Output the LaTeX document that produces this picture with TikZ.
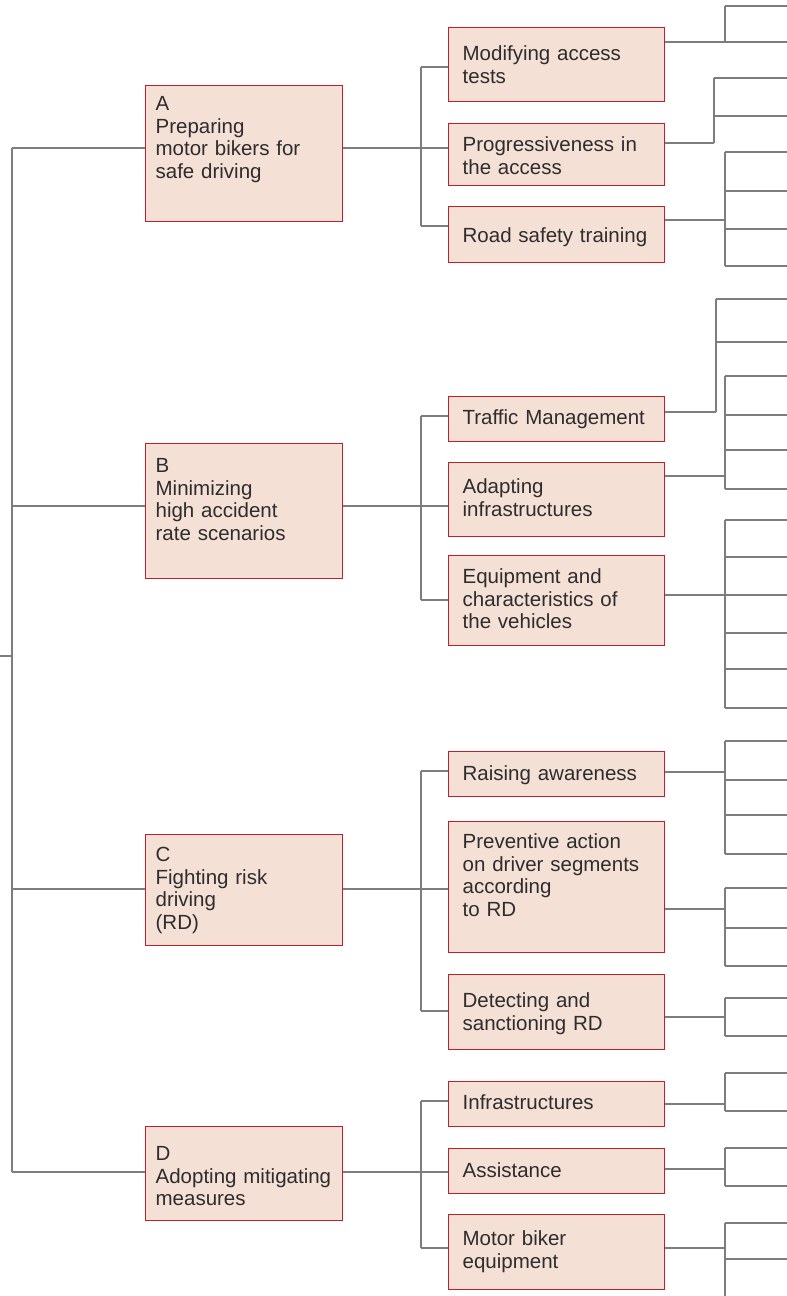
\documentclass[tikz,border=0pt]{standalone}
\usepackage{fontspec}
\setmainfont{Liberation Sans}
\definecolor{boxfill}{RGB}{245,224,214}
\definecolor{boxred}{RGB}{196,30,46}
\definecolor{linegray}{RGB}{125,125,125}
\definecolor{textgray}{RGB}{45,45,45}
\newcommand{\boxfont}{\fontsize{20.5}{22.6}\selectfont}

\begin{document}
\begin{tikzpicture}[
        x=1pt, y=-1pt,
        link/.style={draw=linegray, line width=1.2pt},
        spans/.style 2 args={text height=#1pt, text depth=#2pt},
        mainbox/.style={rectangle, draw=boxred, fill=boxfill, line width=1.3pt,
          anchor=north west, inner xsep=10pt, inner ysep=0pt, text width=177pt,
        align=left, font=\boxfont, text=textgray},
        subbox/.style={mainbox, inner xsep=14pt, text width=188pt},
      ]
      \useasboundingbox (0,0) rectangle (787,1296);

      \node[mainbox, spans={25}{111}] (A) at (145,85)
      {A\\Preparing\\motor bikers for\\safe driving};
      \node[mainbox, spans={29}{106}] (B) at (145,443)
      {B\\Minimizing\\high accident\\rate scenarios};
      \node[mainbox, spans={27}{84}] (C) at (145,834)
      {C\\Fighting risk\\driving\\(RD)};
      \node[mainbox, spans={34}{60}] (D) at (145,1126)
      {D\\Adopting mitigating\\measures};

      \node[subbox, spans={33}{41}] (A1) at (448,27) {Modifying access\\tests};
      \node[subbox, spans={28}{34}] (A2) at (448,123) {Progressiveness in\\the access};
      \node[subbox, spans={36}{20}] (A3) at (448,206) {Road safety training};

      \node[subbox, spans={28}{17}] (B1) at (448,396) {Traffic Management};
      \node[subbox, spans={31}{43}] (B2) at (448,462) {Adapting\\infrastructures};
      \node[subbox, spans={28}{62}] (B3) at (448,555)
      {Equipment and\\characteristics of\\the vehicles};

      \node[subbox, spans={29}{16}] (C1) at (448,751) {Raising awareness};
      \node[subbox, spans={27}{104}] (C2) at (448,821)
      {Preventive action\\on driver segments\\according\\to RD};
      \node[subbox, spans={33}{42}] (C3) at (448,974) {Detecting and\\sanctioning RD};

      \node[subbox, spans={28}{17}] (D1) at (448,1081) {Infrastructures};
      \node[subbox, spans={29}{16}] (D2) at (448,1148) {Assistance};
      \node[subbox, spans={31}{44}] (D3) at (448,1214) {Motor biker\\equipment};

      % trunk
      \coordinate (root) at (12,656);
      \draw[link] (0,656) -- (root);
      \draw[link] (12,148) -- (12,1172);
      \foreach \n/\y in {A/148, B/506, C/889, D/1172}
        \draw[link] (12,\y) -- (\n.west |- 0,\y);

      % main boxes to sub boxes
      \foreach \n/\y/\a/\b in {A/148/67/226, B/506/416/600, C/889/771/1011, D/1172/1101/1248} {
        \draw[link] (\n.east |- 0,\y) -- (421,\y);
        \draw[link] (421,\a) -- (421,\b);
      }
      \foreach \s/\y in {A1/67, A2/148, A3/226, B1/416, B2/506, B3/600,
        C1/771, C2/889, C3/1011, D1/1101, D2/1172, D3/1248}
        \draw[link] (421,\y) -- (\s.west |- 0,\y);

      % sub boxes to open leaves
      \foreach \s/\y/\x/\a/\b/\leaves in {
          A1/42/725/6/42/{6,42}, A2/143/714/78/143/{78,116},
          A3/220/725/152/266/{152,191,229,266},
          B1/412/716/299/412/{299,342}, B2/476/725/376/489/{376,415,450,489},
          B3/595/725/520/708/{520,557,595,633,669,708},
          C1/772/725/741/854/{741,780,815,854}, C2/909/725/888/966/{888,928,966},
          C3/1017/725/998/1036/{998,1036},
          D1/1104/725/1073/1111/{1073,1111}, D2/1169/725/1148/1186/{1148,1186},
          D3/1248/725/1223/1296/{1223,1259}} {
        \draw[link] (\s.east |- 0,\y) -- (\x,\y);
        \draw[link] (\x,\a) -- (\x,\b);
        \foreach \l in \leaves
          \draw[link] (\x,\l) -- (787,\l);
      }

    \end{tikzpicture}
\end{document}
